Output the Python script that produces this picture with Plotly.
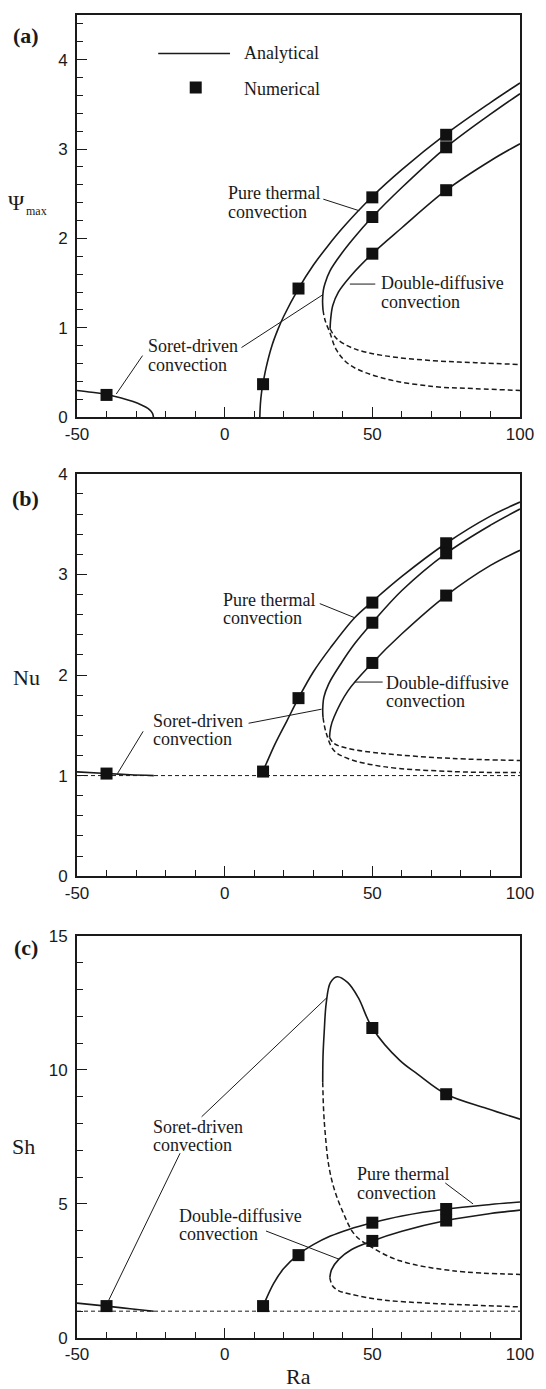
import plotly.graph_objects as go

W, H = 546, 1389
ML, MR, MT, MB = 77, 26, 6, 51
PLOT_H = H - MT - MB
PLOT_W = W - ML - MR

# ---------------- data ----------------
# (a) Psi_max
a_sl_ra = [-50, -45, -40, -35, -31, -28, -26, -25, -24.4, -24.1]
a_sl_v = [0.30, 0.28, 0.255, 0.215, 0.175, 0.135, 0.10, 0.07, 0.04, 0.0]
a_pt_ra = [11.9, 12.1, 12.5, 13, 14, 16, 18, 20, 25, 30, 35, 40, 50, 60, 75, 90, 100]
a_pt_v = [0.0, 0.15, 0.28, 0.38, 0.55, 0.80, 0.98, 1.13, 1.44, 1.70, 1.92, 2.12, 2.47, 2.77, 3.17, 3.52, 3.74]
a_sd_ra = [33.3, 33.15, 33.4, 34.0, 35.7, 39.1, 43.6, 50, 60, 75, 90, 100]
a_sd_v = [1.20, 1.30, 1.42, 1.50, 1.64, 1.81, 2.00, 2.24, 2.57, 3.02, 3.39, 3.62]
a_sdu_ra = [33.3, 34.0, 35.7, 37.9, 42.4, 53.7, 70.7, 85, 100]
a_sdu_v = [1.20, 1.085, 0.94, 0.75, 0.585, 0.437, 0.344, 0.32, 0.30]
a_dd_ra = [35.7, 35.9, 36.6, 38.5, 42.4, 50, 60, 75, 90, 100]
a_dd_v = [0.99, 1.10, 1.25, 1.40, 1.57, 1.83, 2.12, 2.54, 2.87, 3.06]
a_ddu_ra = [35.7, 37.9, 43.6, 53.7, 70.7, 85, 100]
a_ddu_v = [0.99, 0.88, 0.77, 0.69, 0.633, 0.61, 0.59]
a_num_ra = [-40, 13, 25, 50, 50, 50, 75, 75, 75]
a_num_v = [0.25, 0.37, 1.44, 2.46, 2.24, 1.83, 3.16, 3.02, 2.54]

# (b) Nu
b_base_ra = [-50, 100]
b_base_v = [1.0, 1.0]
b_sl_ra = [-50, -40, -32, -24]
b_sl_v = [1.037, 1.02, 1.008, 1.0]
b_pt_ra = [12, 13, 17, 21, 25, 30, 35.8, 44, 50, 60, 75, 90, 100]
b_pt_v = [1.0, 1.05, 1.31, 1.54, 1.77, 2.03, 2.27, 2.57, 2.73, 2.98, 3.31, 3.58, 3.72]
b_sd_ra = [33.3, 33.2, 33.6, 35.2, 39.3, 44, 50, 60, 75, 90, 100]
b_sd_v = [1.58, 1.66, 1.78, 1.91, 2.11, 2.31, 2.52, 2.84, 3.21, 3.49, 3.65]
b_sdu_ra = [33.3, 34.4, 37.0, 41.7, 53.5, 77, 100]
b_sdu_v = [1.58, 1.42, 1.25, 1.17, 1.09, 1.04, 1.03]
b_dd_ra = [35.5, 35.9, 37.0, 41.7, 50, 60, 75, 90, 100]
b_dd_v = [1.38, 1.48, 1.58, 1.84, 2.12, 2.41, 2.79, 3.09, 3.24]
b_ddu_ra = [35.5, 37, 41.7, 53.5, 77, 100]
b_ddu_v = [1.38, 1.32, 1.27, 1.22, 1.17, 1.15]
b_num_ra = [-40, 13, 25, 50, 50, 50, 75, 75, 75]
b_num_v = [1.02, 1.04, 1.77, 2.72, 2.52, 2.12, 3.31, 3.21, 2.79]

# (c) Sh
c_base_ra = [-50, 100]
c_base_v = [1.0, 1.0]
c_sl_ra = [-50, -40, -32, -24]
c_sl_v = [1.30, 1.19, 1.09, 1.0]
c_pt_ra = [12.2, 13.1, 16.5, 19.9, 24.9, 30, 35.8, 42, 50, 60, 75, 90, 100]
c_pt_v = [1.0, 1.22, 2.02, 2.58, 3.11, 3.48, 3.80, 4.05, 4.30, 4.55, 4.81, 4.98, 5.07]
c_sd_ra = [33.2, 33.3, 33.7, 34.4, 35.8, 38.1, 41.7, 45.2, 50, 59.3, 65.2, 75, 88.8, 100]
c_sd_v = [9.54, 10.5, 11.4, 12.5, 13.25, 13.47, 13.25, 12.7, 11.56, 10.35, 9.85, 9.09, 8.56, 8.16]
c_sdu_ra = [33.2, 33.5, 34.0, 35.2, 37, 39.9, 44, 50, 59.3, 77, 100]
c_sdu_v = [9.54, 8.5, 7.69, 6.46, 5.59, 4.73, 3.86, 3.37, 2.88, 2.51, 2.37]
c_dd_ra = [35.6, 36.2, 38.7, 43, 50, 60, 75, 90, 100]
c_dd_v = [2.25, 2.55, 2.94, 3.30, 3.62, 3.98, 4.38, 4.64, 4.77]
c_ddu_ra = [35.6, 36.5, 38.5, 42.4, 53.5, 70.7, 100]
c_ddu_v = [2.25, 1.95, 1.77, 1.64, 1.42, 1.29, 1.16]
c_num_ra = [-40, 13, 25, 50, 50, 50, 75, 75, 75]
c_num_v = [1.19, 1.19, 3.09, 11.56, 4.30, 3.62, 9.09, 4.81, 4.38]

x_ticks = [-50, 0, 50, 100]
x_ticktext = ["-50", "0", "50", "100"]
ya_ticks = [0, 1, 2, 3, 4]
yb_ticks = [0, 1, 2, 3, 4]
yc_ticks = [0, 5, 10, 15]

# ---------------- style ----------------
INK = "#1a1a1a"
SANS = "Liberation Sans, Arial, sans-serif"
SERIF = "Liberation Serif, Times New Roman, serif"
LW = 1.6

fig = go.Figure()


def curve(ax, xs, ys, dash=None, width=LW):
    fig.add_trace(go.Scatter(
        x=xs, y=ys, xaxis="x" + ax, yaxis="y" + ax, mode="lines",
        line=dict(color=INK, width=width, dash=dash or "solid", shape="spline", smoothing=1.0),
        showlegend=False, hoverinfo="skip"))


def squares(ax, xs, ys):
    fig.add_trace(go.Scatter(
        x=xs, y=ys, xaxis="x" + ax, yaxis="y" + ax, mode="markers",
        marker=dict(symbol="square", size=12, color="#111111"),
        showlegend=False, hoverinfo="skip", cliponaxis=False))


DASH = "5px,3px"
BDASH = "4px,3px"

# panel a
curve("", a_sl_ra, a_sl_v)
curve("", a_pt_ra, a_pt_v)
curve("", a_sd_ra, a_sd_v)
curve("", a_sdu_ra, a_sdu_v, DASH, 1.5)
curve("", a_dd_ra, a_dd_v)
curve("", a_ddu_ra, a_ddu_v, DASH, 1.5)
squares("", a_num_ra, a_num_v)
# panel b
curve("2", b_base_ra, b_base_v, BDASH, 1.0)
curve("2", b_sl_ra, b_sl_v)
curve("2", b_pt_ra, b_pt_v)
curve("2", b_sd_ra, b_sd_v)
curve("2", b_sdu_ra, b_sdu_v, DASH, 1.5)
curve("2", b_dd_ra, b_dd_v)
curve("2", b_ddu_ra, b_ddu_v, DASH, 1.5)
squares("2", b_num_ra, b_num_v)
# panel c
curve("3", c_base_ra, c_base_v, BDASH, 1.0)
curve("3", c_sl_ra, c_sl_v)
curve("3", c_pt_ra, c_pt_v)
curve("3", c_sd_ra, c_sd_v)
curve("3", c_sdu_ra, c_sdu_v, DASH, 1.5)
curve("3", c_dd_ra, c_dd_v)
curve("3", c_ddu_ra, c_ddu_v, DASH, 1.5)
squares("3", c_num_ra, c_num_v)


def py2paper(py):
    return (H - MB - py) / PLOT_H


def px2paper(px):
    return (px - ML) / PLOT_W


def xaxis(anchor):
    return dict(
        domain=[0, 1], anchor=anchor, range=[-50, 100], tickvals=x_ticks, ticktext=x_ticktext,
        ticks="inside", ticklen=10, tickwidth=1.3, tickcolor=INK,
        minor=dict(ticks="inside", ticklen=6, tickwidth=1.3, tickcolor=INK, dtick=10, tick0=0),
        showline=True, linecolor=INK, linewidth=2, mirror=True,
        showgrid=False, zeroline=False,
        tickfont=dict(family=SANS, size=17, color=INK), ticklabelstandoff=0)


def yaxis(anchor, dom, rng, tv, mdt):
    return dict(
        domain=dom, anchor=anchor, range=rng, tickvals=tv,
        ticks="inside", ticklen=10, tickwidth=1.3, tickcolor=INK,
        minor=dict(ticks="inside", ticklen=6, tickwidth=1.3, tickcolor=INK, dtick=mdt, tick0=0),
        showline=True, linecolor=INK, linewidth=2, mirror=True,
        showgrid=False, zeroline=False,
        tickfont=dict(family=SANS, size=17, color=INK), ticklabelstandoff=4)


dom_a = [py2paper(411), py2paper(6)]
dom_b = [py2paper(873), py2paper(468)]
dom_c = [py2paper(1338), py2paper(933)]

shapes = []
annotations = []


def leader(ax, x0, y0, x1, y1):
    shapes.append(dict(type="line", xref="x" + ax, yref="y" + ax, x0=x0, y0=y0, x1=x1, y1=y1,
                       line=dict(color=INK, width=1)))


def label(ax, x, y, text, size=18):
    annotations.append(dict(xref="x" + ax, yref="y" + ax, x=x, y=y, text=text, showarrow=False,
                            xanchor="left", yanchor="middle",
                            font=dict(family=SERIF, size=size, color=INK)))


def ptext(px, py, text, size, bold=False, xanchor="center"):
    t = "<b>%s</b>" % text if bold else text
    annotations.append(dict(xref="paper", yref="paper", x=px2paper(px), y=py2paper(py), text=t,
                            showarrow=False, xanchor=xanchor, yanchor="middle",
                            font=dict(family=SERIF, size=size, color=INK)))


# panel a labels
shapes.append(dict(type="line", xref="x", yref="y", x0=-22.5, x1=1.8, y0=4.07, y1=4.07,
                   line=dict(color=INK, width=1.5)))
shapes.append(dict(type="rect", xref="x", yref="y", xsizemode="pixel", ysizemode="pixel",
                   xanchor=-9.8, yanchor=3.69, x0=-6, x1=6, y0=-6, y1=6,
                   fillcolor="#111111", line=dict(width=0)))
label("", 5.7, 4.07, "Analytical")
label("", 5.7, 3.67, "Numerical")
label("", 0.4, 2.51, "Pure thermal")
label("", 0.4, 2.30, "convection")
leader("", 33.4, 2.44, 45.6, 2.31)
label("", 52.2, 1.50, "Double-diffusive")
label("", 52.2, 1.29, "convection")
leader("", 42.4, 1.49, 51.0, 1.49)
label("", -26.7, 0.80, "Soret-driven")
label("", -26.7, 0.59, "convection")
leader("", -27.8, 0.69, -36.7, 0.26)
leader("", 5.7, 0.78, 33.2, 1.37)

# panel b labels
label("2", -1.3, 2.75, "Pure thermal")
label("2", -1.3, 2.57, "convection")
leader("2", 32.2, 2.71, 44.0, 2.57)
label("2", 54.0, 1.92, "Double-diffusive")
label("2", 54.0, 1.74, "convection")
leader("2", 53.5, 1.93, 44.0, 1.93)
label("2", -24.9, 1.54, "Soret-driven")
label("2", -24.9, 1.36, "convection")
leader("2", -27.6, 1.44, -36.3, 1.02)
leader("2", 8.1, 1.52, 32.8, 1.66)

# panel c labels
label("3", -24.9, 7.88, "Soret-driven")
label("3", -24.9, 7.20, "convection")
leader("3", -7.8, 8.25, 34.6, 12.69)
leader("3", -15.1, 6.89, -39.6, 1.33)
label("3", 44.0, 6.11, "Pure thermal")
label("3", 44.0, 5.41, "convection")
leader("3", 74.7, 5.78, 84.1, 5.0)
label("3", -16.3, 4.54, "Double-diffusive")
label("3", -16.3, 3.89, "convection")
leader("3", 14.0, 3.99, 38.7, 2.94)

# panel letters and axis titles
ptext(26, 27, "(a)", 22, bold=True)
ptext(25, 493, "(b)", 22, bold=True)
ptext(26, 945, "(c)", 22, bold=True)
ptext(17, 195, "Ψ", 22)
ptext(36, 203, "max", 12)
ptext(26, 673, "Nu", 22)
ptext(23, 1145, "Sh", 22)
ptext(298, 1377, "Ra", 22)

fig.update_layout(
    width=W, height=H, margin=dict(l=ML, r=MR, t=MT, b=MB, pad=0),
    paper_bgcolor="white", plot_bgcolor="white", showlegend=False,
    xaxis=xaxis("y"), yaxis=yaxis("x", dom_a, [0, 4.5], ya_ticks, 0.2),
    xaxis2=xaxis("y2"), yaxis2=yaxis("x2", dom_b, [0, 4], yb_ticks, 0.2),
    xaxis3=xaxis("y3"), yaxis3=yaxis("x3", dom_c, [0, 15], yc_ticks, 1),
    shapes=shapes, annotations=annotations,
)

fig.write_html("out.html")
